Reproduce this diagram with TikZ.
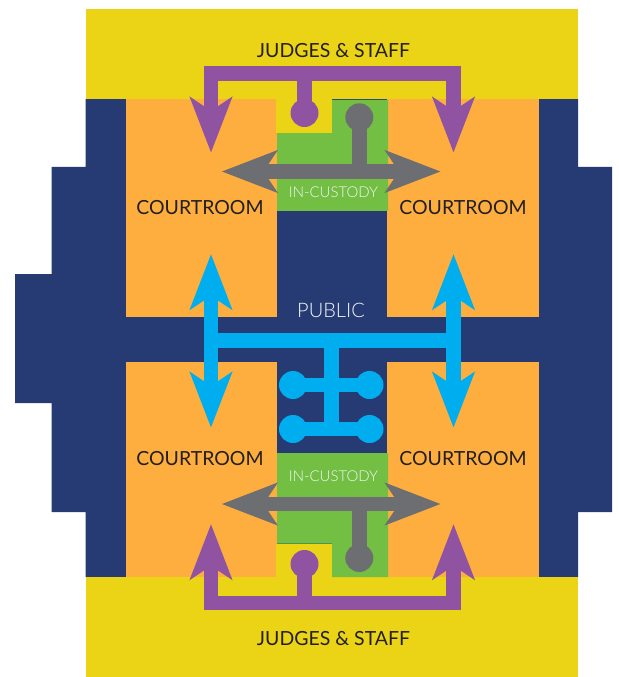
\documentclass[tikz,border=0pt]{standalone}
\usepackage{fontspec}
\setmainfont{Lato}
\newfontfamily\lightlato{Lato Light}
\usetikzlibrary{arrows.meta}
\definecolor{judgeyellow}{HTML}{EBD416}
\definecolor{publicnavy}{HTML}{263B73}
\definecolor{courtorange}{HTML}{FDAE3F}
\definecolor{custodygreen}{HTML}{72BF44}
\definecolor{judgepurple}{HTML}{8F53A1}
\definecolor{custodygrey}{HTML}{6D6E71}
\definecolor{publiccyan}{HTML}{00AEEF}
\definecolor{labelblack}{HTML}{231F20}
\definecolor{labelwhite}{HTML}{F4F6F8}
\begin{document}
\begin{tikzpicture}[x=0.75pt,y=-0.75pt,
    bigtip/.style={>={Stealth[length=41.25pt,width=31pt,inset=10pt]}},
    route/.style={line width=11.1pt,bigtip},
    knob/.style={circle,inner sep=0pt,minimum size=21pt},
    darklabel/.style={text=labelblack,font=\fontsize{14.6}{17}\selectfont,inner sep=0pt},
    lightlabel/.style={text=labelwhite,inner sep=0pt}]
  \useasboundingbox (0,0) rectangle (618,677);
  \fill[publicnavy] (15,274) -- (51.5,274) -- (51.5,167) -- (85.5,167) -- (85.5,99) -- (578,99)
    -- (578,167) -- (612,167) -- (612,512) -- (578,512) -- (578,577) -- (85.5,577) -- (85.5,512)
    -- (51.5,512) -- (51.5,403) -- (15,403) -- cycle;
  \fill[judgeyellow] (85.5,9) rectangle (578,99.5);
  \fill[judgeyellow] (85.5,577) rectangle (578,677);
  \fill[courtorange] (125.5,99.5) rectangle (277,317);
  \fill[courtorange] (387,99.5) rectangle (539,317);
  \fill[courtorange] (125.5,362) rectangle (277,577);
  \fill[courtorange] (387,362) rectangle (539,577);
  \fill[custodygreen] (277,211) -- (277,133) -- (332,133) -- (332,100) -- (388,100) -- (388,211) -- cycle;
  \fill[custodygreen] (277,453) -- (277,543.5) -- (332,543.5) -- (332,577) -- (388,577) -- (388,453) -- cycle;
  \fill[judgeyellow] (276,99) rectangle (332,133);
  \fill[judgeyellow] (276,543.5) rectangle (332,578);

  \node[knob,fill=judgepurple] (judgeknobtop) at (304.5,113) {};
  \node[knob,fill=custodygrey] (cellknobtop) at (359.3,117.3) {};
  \node[knob,fill=judgepurple] (judgeknobbot) at (304.5,564) {};
  \node[knob,fill=custodygrey] (cellknobbot) at (359.3,558) {};
  \node[knob,fill=publiccyan] (benchnw) at (293,385) {};
  \node[knob,fill=publiccyan] (benchne) at (369.5,385) {};
  \node[knob,fill=publiccyan] (benchsw) at (293,429) {};
  \node[knob,fill=publiccyan] (benchse) at (369.5,429) {};

  \coordinate (judgebartop) at (304.5,73.5);
  \coordinate (judgetiptl) at (211,152.7);
  \coordinate (judgetiptr) at (453.5,152.7);
  \coordinate (judgebarbot) at (304.5,603);
  \coordinate (judgetipbl) at (211,524);
  \coordinate (judgetipbr) at (453.5,524);
  \draw[route,judgepurple,<->] (judgetiptl) |- (judgebartop) -| (judgetiptr);
  \draw[route,judgepurple] (judgebartop) -- (judgeknobtop.center);
  \draw[route,judgepurple,<->] (judgetipbl) |- (judgebarbot) -| (judgetipbr);
  \draw[route,judgepurple] (judgebarbot) -- (judgeknobbot.center);

  \coordinate (celltipwt) at (221.7,171.5);
  \coordinate (celltipet) at (440.7,171.5);
  \coordinate (celltipwb) at (221.7,504);
  \coordinate (celltipeb) at (440.7,504);
  \draw[route,custodygrey,<->] (celltipwt) -- (celltipet);
  \draw[route,custodygrey] (cellknobtop.center) -- (cellknobtop |- celltipet);
  \draw[route,custodygrey,<->] (celltipwb) -- (celltipeb);
  \draw[route,custodygrey] (cellknobbot.center) -- (cellknobbot |- celltipeb);

  \coordinate (pubtipnw) at (211,254);
  \coordinate (pubtipsw) at (211,427.7);
  \coordinate (pubtipne) at (453.5,254);
  \coordinate (pubtipse) at (453.5,427.7);
  \coordinate (pubwest) at (211,340.5);
  \coordinate (pubeast) at (453.5,340.5);
  \coordinate (pubmid) at (331.5,340.5);
  \coordinate (pubend) at (331.5,429);
  \draw[route,publiccyan,<->] (pubtipnw) -- (pubtipsw);
  \draw[route,publiccyan,<->] (pubtipne) -- (pubtipse);
  \draw[route,publiccyan] (pubwest) -- (pubeast);
  \draw[route,publiccyan] (pubmid) -- (pubend);
  \draw[route,publiccyan] (benchnw.center) -- (benchne.center);
  \draw[route,publiccyan] (benchsw.center) -- (benchse.center);

  \node[darklabel] (judgestop) at (333.5,50.5) {JUDGES \& STAFF};
  \node[darklabel] (judgesbot) at (333.5,638.5) {JUDGES \& STAFF};
  \node[darklabel] (courtnw) at (200,207.5) {COURTROOM};
  \node[darklabel] (courtne) at (463,207.5) {COURTROOM};
  \node[darklabel] (courtsw) at (200,458.5) {COURTROOM};
  \node[darklabel] (courtse) at (463,458.5) {COURTROOM};
  \node[lightlabel,font=\lightlato\fontsize{15}{18}\selectfont] (public) at (331,310.5) {PUBLIC};
  \node[lightlabel,font=\lightlato\fontsize{11.2}{13}\selectfont] (custodytop) at (333.5,192) {IN-CUSTODY};
  \node[lightlabel,font=\lightlato\fontsize{11.2}{13}\selectfont] (custodybot) at (333.5,476) {IN-CUSTODY};
\end{tikzpicture}
\end{document}
